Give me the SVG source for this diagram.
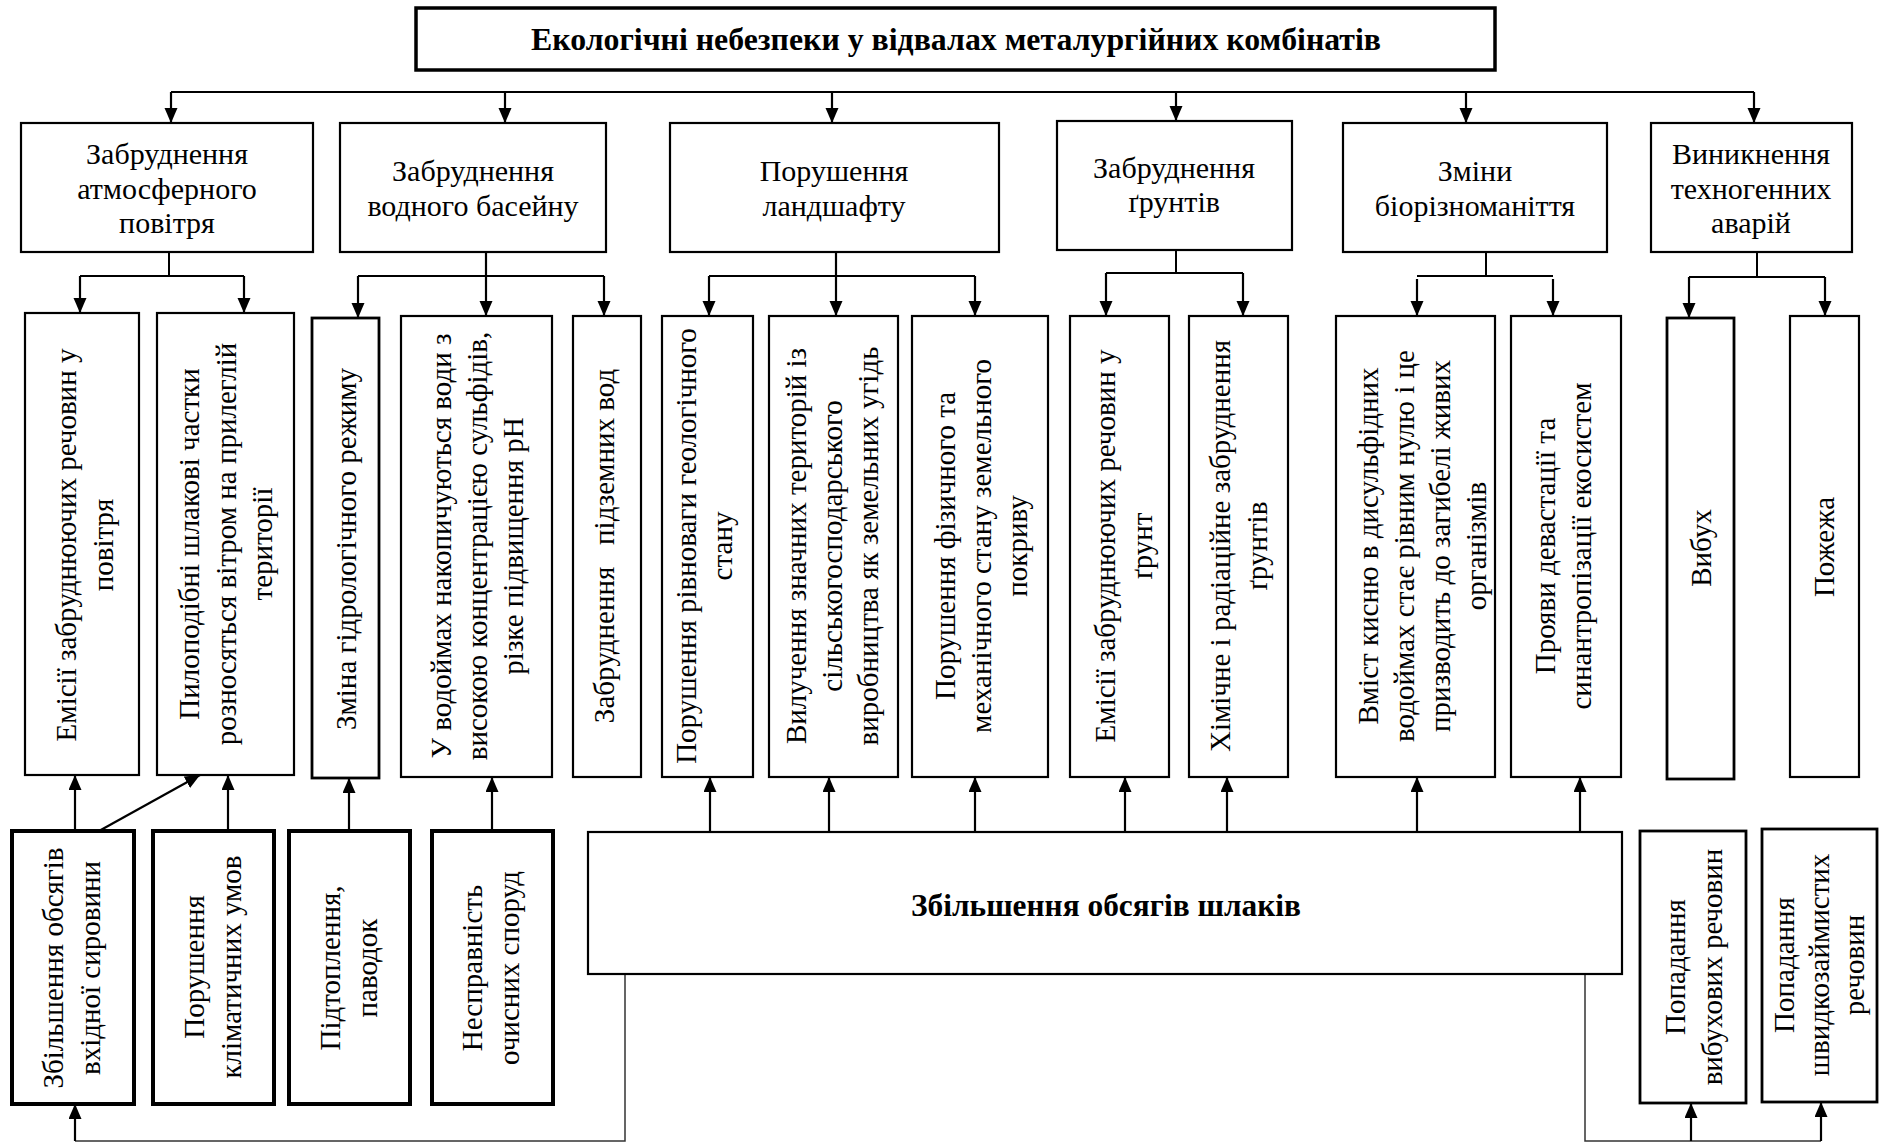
<svg xmlns="http://www.w3.org/2000/svg" width="1880" height="1144" viewBox="0 0 1880 1144">
  <defs>
    <marker id="ah" markerUnits="userSpaceOnUse" markerWidth="16" markerHeight="14" refX="15" refY="6.5" orient="auto">
      <path d="M0,0 L15,6.5 L0,13 z" fill="#000"/>
    </marker>
    <style>
      .box { fill: #fff; stroke: #000; stroke-width: 2.2; }
      .thick { stroke-width: 4; }
      .mid { stroke-width: 2.8; }
      .title { stroke-width: 3.5; }
      .t { font-family: "Liberation Serif", "Times New Roman", serif; font-size: 29px; fill: #000; text-anchor: middle; }
      .h { font-size: 30px; }
      .b { font-weight: bold; font-size: 31px; }
      .ln { stroke: #000; stroke-width: 2; fill: none; }
      .ar { stroke: #000; stroke-width: 2.2; fill: none; marker-end: url(#ah); }
      .fb { stroke: #333; stroke-width: 1.5; fill: none; }
    </style>
  </defs>
  <rect width="1880" height="1144" fill="#fff"/>

  <!-- connectors -->
  <g id="connectors">
    <!-- main bus -->
    <line class="ln" x1="171" y1="92" x2="1754" y2="92"/>
    <line class="ar" x1="171" y1="92" x2="171" y2="123"/>
    <line class="ar" x1="505" y1="92" x2="505" y2="123"/>
    <line class="ar" x1="832" y1="92" x2="832" y2="123"/>
    <line class="ar" x1="1176" y1="92" x2="1176" y2="121"/>
    <line class="ar" x1="1466" y1="92" x2="1466" y2="123"/>
    <line class="ar" x1="1754" y1="92" x2="1754" y2="123"/>

    <!-- air pollution branch -->
    <line class="ln" x1="169" y1="252" x2="169" y2="276"/>
    <line class="ln" x1="80" y1="276" x2="244" y2="276"/>
    <line class="ar" x1="80" y1="276" x2="80" y2="313"/>
    <line class="ar" x1="244" y1="276" x2="244" y2="313"/>

    <!-- water branch -->
    <line class="ar" x1="486" y1="252" x2="486" y2="316"/>
    <line class="ln" x1="358" y1="276" x2="604" y2="276"/>
    <line class="ar" x1="358" y1="276" x2="358" y2="318"/>
    <line class="ar" x1="604" y1="276" x2="604" y2="316"/>

    <!-- landscape branch -->
    <line class="ar" x1="836" y1="252" x2="836" y2="316"/>
    <line class="ln" x1="709" y1="276" x2="975" y2="276"/>
    <line class="ar" x1="709" y1="276" x2="709" y2="316"/>
    <line class="ar" x1="975" y1="276" x2="975" y2="316"/>

    <!-- soil branch -->
    <line class="ln" x1="1176" y1="250" x2="1176" y2="273"/>
    <line class="ln" x1="1106" y1="273" x2="1243" y2="273"/>
    <line class="ar" x1="1106" y1="273" x2="1106" y2="316"/>
    <line class="ar" x1="1243" y1="273" x2="1243" y2="316"/>

    <!-- biodiversity branch -->
    <line class="ln" x1="1486" y1="252" x2="1486" y2="276"/>
    <line class="ln" x1="1417" y1="276" x2="1553" y2="276"/>
    <line class="ar" x1="1417" y1="279" x2="1417" y2="316"/>
    <line class="ar" x1="1553" y1="279" x2="1553" y2="316"/>

    <!-- accidents branch -->
    <line class="ln" x1="1757" y1="252" x2="1757" y2="277"/>
    <line class="ln" x1="1689" y1="277" x2="1825" y2="277"/>
    <line class="ar" x1="1689" y1="277" x2="1689" y2="318"/>
    <line class="ar" x1="1825" y1="277" x2="1825" y2="316"/>

    <!-- causes, bottom left -->
    <line class="ar" x1="75" y1="831" x2="75" y2="775"/>
    <line class="ar" x1="99" y1="831" x2="200" y2="775"/>
    <line class="ar" x1="228" y1="831" x2="228" y2="775"/>
    <line class="ar" x1="349" y1="831" x2="349" y2="778"/>
    <line class="ar" x1="492" y1="831" x2="492" y2="777"/>

    <!-- slag volume to effects -->
    <line class="ar" x1="710" y1="832" x2="710" y2="777"/>
    <line class="ar" x1="829" y1="832" x2="829" y2="777"/>
    <line class="ar" x1="975" y1="832" x2="975" y2="777"/>
    <line class="ar" x1="1125" y1="832" x2="1125" y2="777"/>
    <line class="ar" x1="1227" y1="832" x2="1227" y2="777"/>
    <line class="ar" x1="1417" y1="832" x2="1417" y2="777"/>
    <line class="ar" x1="1580" y1="832" x2="1580" y2="777"/>

    <!-- feedback loops under the slag box -->
    <polyline class="fb" points="625,974 625,1141 75,1141"/>
    <line class="ar" x1="75" y1="1141" x2="75" y2="1104"/>
    <polyline class="fb" points="1585,974 1585,1141 1821,1141"/>
    <line class="ar" x1="1691" y1="1141" x2="1691" y2="1103"/>
    <line class="ar" x1="1821" y1="1141" x2="1821" y2="1102"/>
  </g>

  <!-- title -->
  <g id="title">
    <rect class="box title" x="416" y="8" width="1079" height="62"/>
    <text class="t b" x="956" y="50" textLength="850" lengthAdjust="spacingAndGlyphs">Екологічні небезпеки у відвалах металургійних комбінатів</text>
  </g>

  <!-- first level -->
  <g id="air">
    <rect class="box" x="21" y="123" width="292" height="129"/>
    <text class="t h"><tspan x="167" y="164">Забруднення</tspan><tspan x="167" y="199">атмосферного</tspan><tspan x="167" y="233">повітря</tspan></text>
  </g>
  <g id="water">
    <rect class="box" x="340" y="123" width="266" height="129"/>
    <text class="t h"><tspan x="473" y="181">Забруднення</tspan><tspan x="473" y="216">водного басейну</tspan></text>
  </g>
  <g id="landscape">
    <rect class="box" x="670" y="123" width="329" height="129"/>
    <text class="t h"><tspan x="834" y="181">Порушення</tspan><tspan x="834" y="216">ландшафту</tspan></text>
  </g>
  <g id="soil">
    <rect class="box" x="1057" y="121" width="235" height="129"/>
    <text class="t h"><tspan x="1174" y="178">Забруднення</tspan><tspan x="1174" y="212">ґрунтів</tspan></text>
  </g>
  <g id="biodiversity">
    <rect class="box" x="1343" y="123" width="264" height="129"/>
    <text class="t h"><tspan x="1475" y="181">Зміни</tspan><tspan x="1475" y="216">біорізноманіття</tspan></text>
  </g>
  <g id="accidents">
    <rect class="box" x="1651" y="123" width="201" height="129"/>
    <text class="t h"><tspan x="1751" y="164">Виникнення</tspan><tspan x="1751" y="199">техногенних</tspan><tspan x="1751" y="233">аварій</tspan></text>
  </g>

  <!-- second level: effects (vertical labels) -->
  <g id="air-emissions">
    <rect class="box" x="25" y="313" width="114" height="462"/>
    <text class="t" transform="rotate(-90)"><tspan x="-545" y="76">Емісії забруднюючих речовин у</tspan><tspan x="-545" y="113">повітря</tspan></text>
  </g>
  <g id="dust">
    <rect class="box" x="157" y="313" width="137" height="462"/>
    <text class="t" transform="rotate(-90)"><tspan x="-544" y="199">Пилоподібні шлакові частки</tspan><tspan x="-544" y="235.5">розносяться вітром на прилеглій</tspan><tspan x="-544" y="272">території</tspan></text>
  </g>
  <g id="hydro">
    <rect class="box mid" x="312" y="318" width="67" height="460"/>
    <text class="t" transform="rotate(-90)"><tspan x="-549" y="356">Зміна гідрологічного режиму</tspan></text>
  </g>
  <g id="sulfides">
    <rect class="box" x="401" y="316" width="151" height="461"/>
    <text class="t" transform="rotate(-90)"><tspan x="-546" y="451">У водоймах накопичуються води з</tspan><tspan x="-546" y="487">високою концентрацією сульфідів,</tspan><tspan x="-546" y="523">різке підвищення pH</tspan></text>
  </g>
  <g id="groundwater">
    <rect class="box" x="573" y="316" width="68" height="461"/>
    <text class="t" transform="rotate(-90)" xml:space="preserve"><tspan x="-546" y="614">Забруднення   підземних вод</tspan></text>
  </g>
  <g id="geology">
    <rect class="box" x="662" y="316" width="91" height="461"/>
    <text class="t" transform="rotate(-90)"><tspan x="-546" y="696">Порушення рівноваги геологічного</tspan><tspan x="-546" y="732">стану</tspan></text>
  </g>
  <g id="land-use">
    <rect class="box" x="769" y="316" width="129" height="461"/>
    <text class="t" transform="rotate(-90)"><tspan x="-546" y="806">Вилучення значних територій із</tspan><tspan x="-546" y="842">сільськогосподарського</tspan><tspan x="-546" y="878">виробництва як земельних угідь</tspan></text>
  </g>
  <g id="land-cover">
    <rect class="box" x="912" y="316" width="136" height="461"/>
    <text class="t" transform="rotate(-90)"><tspan x="-546" y="955">Порушення фізичного та</tspan><tspan x="-546" y="991">механічного стану земельного</tspan><tspan x="-546" y="1027">покриву</tspan></text>
  </g>
  <g id="soil-emissions">
    <rect class="box" x="1070" y="316" width="99" height="461"/>
    <text class="t" transform="rotate(-90)"><tspan x="-546" y="1115">Емісії забруднюючих речовин у</tspan><tspan x="-546" y="1152">ґрунт</tspan></text>
  </g>
  <g id="soil-chemical">
    <rect class="box" x="1189" y="316" width="99" height="461"/>
    <text class="t" transform="rotate(-90)"><tspan x="-546" y="1230">Хімічне і радіаційне забруднення</tspan><tspan x="-546" y="1267">ґрунтів</tspan></text>
  </g>
  <g id="oxygen">
    <rect class="box" x="1336" y="316" width="159" height="461"/>
    <text class="t" transform="rotate(-90)"><tspan x="-546" y="1378">Вміст кисню в дисульфідних</tspan><tspan x="-546" y="1414">водоймах стає рівним нулю і це</tspan><tspan x="-546" y="1450">призводить до загибелі живих</tspan><tspan x="-546" y="1486">організмів</tspan></text>
  </g>
  <g id="devastation">
    <rect class="box" x="1511" y="316" width="110" height="461"/>
    <text class="t" transform="rotate(-90)"><tspan x="-546" y="1555">Прояви девастації та</tspan><tspan x="-546" y="1591">синантропізації екосистем</tspan></text>
  </g>
  <g id="explosion">
    <rect class="box mid" x="1667" y="318" width="67" height="461"/>
    <text class="t" transform="rotate(-90)"><tspan x="-548" y="1711">Вибух</tspan></text>
  </g>
  <g id="fire">
    <rect class="box" x="1790" y="316" width="69" height="461"/>
    <text class="t" transform="rotate(-90)"><tspan x="-547" y="1834">Пожежа</tspan></text>
  </g>

  <!-- causes -->
  <g id="raw-material">
    <rect class="box thick" x="12" y="831" width="122" height="273"/>
    <text class="t" transform="rotate(-90)"><tspan x="-968" y="63">Збільшення обсягів</tspan><tspan x="-968" y="100">вхідної сировини</tspan></text>
  </g>
  <g id="climate">
    <rect class="box thick" x="153" y="831" width="121" height="273"/>
    <text class="t" transform="rotate(-90)"><tspan x="-967" y="204">Порушення</tspan><tspan x="-967" y="241">кліматичних умов</tspan></text>
  </g>
  <g id="flooding">
    <rect class="box thick" x="289" y="831" width="121" height="273"/>
    <text class="t" transform="rotate(-90)"><tspan x="-968" y="340">Підтоплення,</tspan><tspan x="-968" y="377">паводок</tspan></text>
  </g>
  <g id="treatment">
    <rect class="box thick" x="432" y="831" width="121" height="273"/>
    <text class="t" transform="rotate(-90)"><tspan x="-968" y="482">Несправність</tspan><tspan x="-968" y="519">очисних споруд</tspan></text>
  </g>
  <g id="slag">
    <rect class="box" x="588" y="832" width="1034" height="142" stroke-width="2.7"/>
    <text class="t b" x="1106" y="916" textLength="390" lengthAdjust="spacingAndGlyphs">Збільшення обсягів шлаків</text>
  </g>
  <g id="explosives">
    <rect class="box mid" x="1640" y="831" width="106" height="272"/>
    <text class="t" transform="rotate(-90)"><tspan x="-967" y="1685">Попадання</tspan><tspan x="-967" y="1722">вибухових речовин</tspan></text>
  </g>
  <g id="flammables">
    <rect class="box mid" x="1762" y="829" width="115" height="273"/>
    <text class="t" transform="rotate(-90)"><tspan x="-965" y="1794">Попадання</tspan><tspan x="-965" y="1829">швидкозаймистих</tspan><tspan x="-965" y="1864">речовин</tspan></text>
  </g>
</svg>
